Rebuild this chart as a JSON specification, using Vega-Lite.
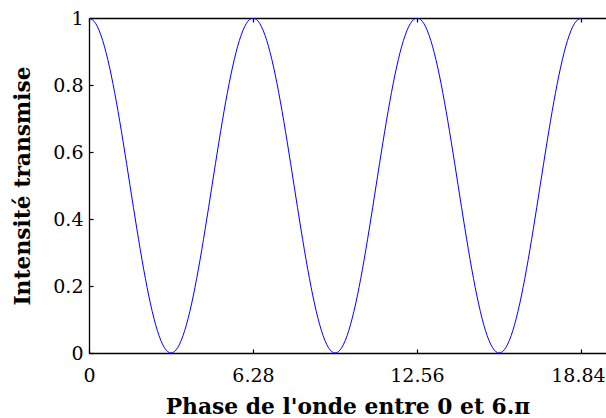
{
  "$schema": "https://vega.github.io/schema/vega-lite/v6.json",
  "autosize": "none",
  "padding": {"left": 89, "top": 18, "right": 0, "bottom": 65},
  "width": 517,
  "height": 335,
  "background": "white",
  "config": {
    "view": {"stroke": null},
    "axis": {
      "labelFont": "DejaVu Serif",
      "labelFontSize": 19,
      "labelColor": "black",
      "titleFont": "DejaVu Serif",
      "titleFontSize": 21.8,
      "titleFontWeight": "bold",
      "titleColor": "black",
      "domainColor": "black",
      "domainWidth": 1.3,
      "tickColor": "black",
      "tickSize": -4,
      "tickWidth": 1.2,
      "grid": false
    }
  },
  "data": {
    "values": [
      {"phase": 0, "intensite": 1},
      {"phase": 0.2618, "intensite": 0.983},
      {"phase": 0.5236, "intensite": 0.933},
      {"phase": 0.7854, "intensite": 0.8536},
      {"phase": 1.0472, "intensite": 0.75},
      {"phase": 1.309, "intensite": 0.6294},
      {"phase": 1.5708, "intensite": 0.5},
      {"phase": 1.8326, "intensite": 0.3706},
      {"phase": 2.0944, "intensite": 0.25},
      {"phase": 2.3562, "intensite": 0.1464},
      {"phase": 2.618, "intensite": 0.067},
      {"phase": 2.8798, "intensite": 0.017},
      {"phase": 3.1416, "intensite": 0},
      {"phase": 3.4034, "intensite": 0.017},
      {"phase": 3.6652, "intensite": 0.067},
      {"phase": 3.927, "intensite": 0.1464},
      {"phase": 4.1888, "intensite": 0.25},
      {"phase": 4.4506, "intensite": 0.3706},
      {"phase": 4.7124, "intensite": 0.5},
      {"phase": 4.9742, "intensite": 0.6294},
      {"phase": 5.236, "intensite": 0.75},
      {"phase": 5.4978, "intensite": 0.8536},
      {"phase": 5.7596, "intensite": 0.933},
      {"phase": 6.0214, "intensite": 0.983},
      {"phase": 6.2832, "intensite": 1},
      {"phase": 6.545, "intensite": 0.983},
      {"phase": 6.8068, "intensite": 0.933},
      {"phase": 7.0686, "intensite": 0.8536},
      {"phase": 7.3304, "intensite": 0.75},
      {"phase": 7.5922, "intensite": 0.6294},
      {"phase": 7.854, "intensite": 0.5},
      {"phase": 8.1158, "intensite": 0.3706},
      {"phase": 8.3776, "intensite": 0.25},
      {"phase": 8.6394, "intensite": 0.1464},
      {"phase": 8.9012, "intensite": 0.067},
      {"phase": 9.163, "intensite": 0.017},
      {"phase": 9.4248, "intensite": 0},
      {"phase": 9.6866, "intensite": 0.017},
      {"phase": 9.9484, "intensite": 0.067},
      {"phase": 10.2102, "intensite": 0.1464},
      {"phase": 10.472, "intensite": 0.25},
      {"phase": 10.7338, "intensite": 0.3706},
      {"phase": 10.9956, "intensite": 0.5},
      {"phase": 11.2574, "intensite": 0.6294},
      {"phase": 11.5192, "intensite": 0.75},
      {"phase": 11.781, "intensite": 0.8536},
      {"phase": 12.0428, "intensite": 0.933},
      {"phase": 12.3046, "intensite": 0.983},
      {"phase": 12.5664, "intensite": 1},
      {"phase": 12.8282, "intensite": 0.983},
      {"phase": 13.09, "intensite": 0.933},
      {"phase": 13.3518, "intensite": 0.8536},
      {"phase": 13.6136, "intensite": 0.75},
      {"phase": 13.8754, "intensite": 0.6294},
      {"phase": 14.1372, "intensite": 0.5},
      {"phase": 14.399, "intensite": 0.3706},
      {"phase": 14.6608, "intensite": 0.25},
      {"phase": 14.9226, "intensite": 0.1464},
      {"phase": 15.1844, "intensite": 0.067},
      {"phase": 15.4462, "intensite": 0.017},
      {"phase": 15.708, "intensite": 0},
      {"phase": 15.9698, "intensite": 0.017},
      {"phase": 16.2316, "intensite": 0.067},
      {"phase": 16.4934, "intensite": 0.1464},
      {"phase": 16.7552, "intensite": 0.25},
      {"phase": 17.017, "intensite": 0.3706},
      {"phase": 17.2788, "intensite": 0.5},
      {"phase": 17.5406, "intensite": 0.6294},
      {"phase": 17.8024, "intensite": 0.75},
      {"phase": 18.0642, "intensite": 0.8536},
      {"phase": 18.326, "intensite": 0.933},
      {"phase": 18.5878, "intensite": 0.983},
      {"phase": 18.8496, "intensite": 1}
    ]
  },
  "layer": [
    {
      "mark": {"type": "line", "color": "#0000ff", "strokeWidth": 1, "interpolate": "monotone", "clip": true},
      "encoding": {
        "x": {
          "field": "phase",
          "type": "quantitative",
          "scale": {"domain": [0, 19.8], "nice": false, "zero": false},
          "axis": {
            "title": "Phase de l'onde entre 0 et 6.π",
            "values": [0, 6.28, 12.56, 18.84],
            "format": ".2~f",
            "labelFlush": false,
            "labelPadding": 17,
            "labelOffset": {"condition": {"test": "datum.value > 18", "value": -3}, "value": 0},
            "titlePadding": 11
          }
        },
        "y": {
          "field": "intensite",
          "type": "quantitative",
          "scale": {"domain": [0, 1], "nice": false},
          "axis": {
            "title": "Intensité transmise",
            "values": [0, 0.2, 0.4, 0.6, 0.8, 1],
            "format": ".1~f",
            "labelFlush": false,
            "labelPadding": 10,
            "titlePadding": 18
          }
        }
      }
    },
    {
      "mark": {"type": "line", "opacity": 0},
      "encoding": {
        "x": {
          "field": "phase",
          "type": "quantitative",
          "axis": {
            "orient": "top",
            "title": null,
            "labels": false,
            "values": [0, 6.28, 12.56, 18.84]
          }
        },
        "y": {"field": "intensite", "type": "quantitative"}
      }
    }
  ],
  "resolve": {"axis": {"x": "independent"}}
}
